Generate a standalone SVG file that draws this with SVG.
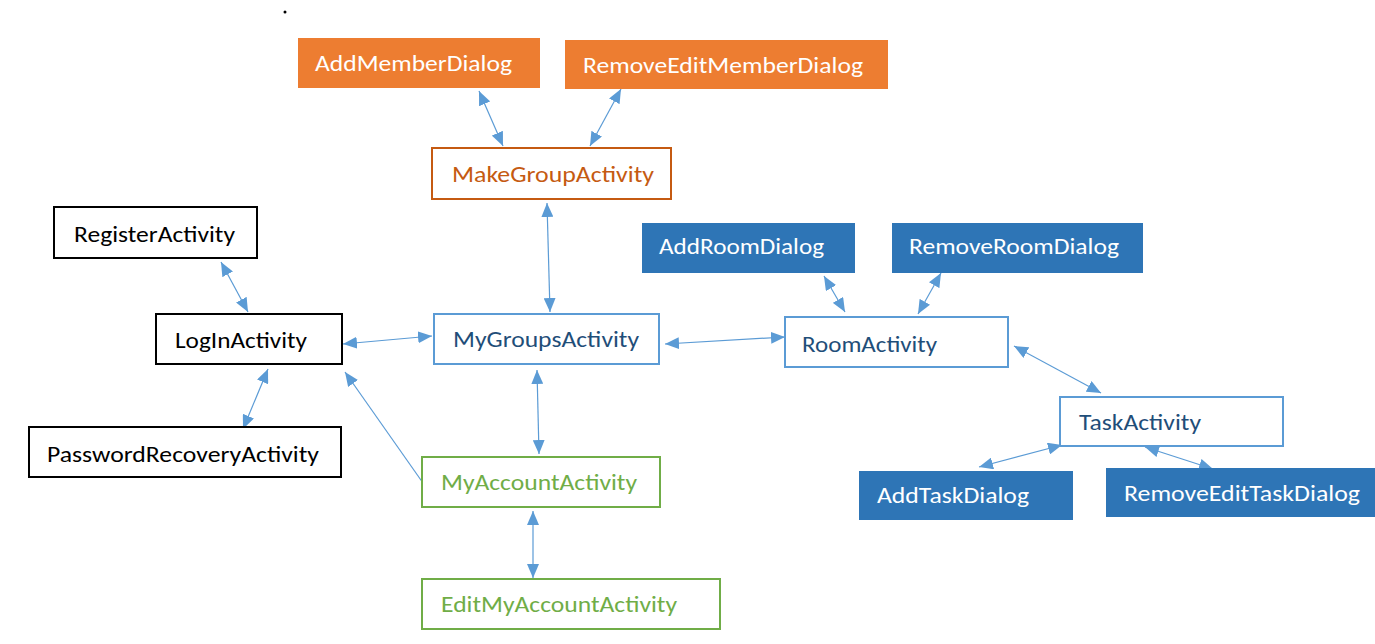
<svg xmlns="http://www.w3.org/2000/svg" width="1375" height="644" viewBox="0 0 1375 644">
<style>
text{font-family:Calibri,Lato,"Liberation Sans",sans-serif;font-size:22px}
.blk rect{fill:#fff;stroke:#000;stroke-width:2}
.blk text{fill:#000}
.org rect{fill:#ED7D31}
.org text,.dkb text{fill:#fff}
.dkb rect{fill:#2E75B6}
.lbl rect{fill:#fff;stroke:#5B9BD5;stroke-width:2}
.lbl text{fill:#1F4E79}
.grn rect{fill:#fff;stroke:#70AD47;stroke-width:2}
.grn text{fill:#70AD47}
.mk rect{fill:#fff;stroke:#C55A11;stroke-width:2}
.mk text{fill:#C55A11}
#connectors line{stroke:#5B9BD5;stroke-width:1.2;fill:none}
</style>
<defs>
<marker id="ah" markerUnits="userSpaceOnUse" markerWidth="14" markerHeight="12" viewBox="0 0 14 12" refX="14" refY="6" orient="auto-start-reverse">
<path d="M0,0 L14,6 L0,12 Z" fill="#5B9BD5"/>
</marker>
</defs>
<rect width="1375" height="644" fill="#fff"/>
<circle cx="285" cy="12" r="1.5" fill="#000"/>
<g id="connectors">
<line x1="479" y1="91" x2="503" y2="146" marker-start="url(#ah)" marker-end="url(#ah)"/>
<line x1="621" y1="89" x2="590" y2="146" marker-start="url(#ah)" marker-end="url(#ah)"/>
<line x1="547" y1="203" x2="550" y2="312" marker-start="url(#ah)" marker-end="url(#ah)"/>
<line x1="221" y1="262" x2="248" y2="312" marker-start="url(#ah)" marker-end="url(#ah)"/>
<line x1="268" y1="369" x2="243" y2="429" marker-start="url(#ah)" marker-end="url(#ah)"/>
<line x1="343" y1="344" x2="432" y2="336" marker-start="url(#ah)" marker-end="url(#ah)"/>
<line x1="423" y1="483" x2="345" y2="372" marker-end="url(#ah)"/>
<line x1="537" y1="370" x2="539" y2="454" marker-start="url(#ah)" marker-end="url(#ah)"/>
<line x1="533" y1="511" x2="533" y2="578" marker-start="url(#ah)" marker-end="url(#ah)"/>
<line x1="665" y1="344" x2="785" y2="337" marker-start="url(#ah)" marker-end="url(#ah)"/>
<line x1="824" y1="276" x2="845" y2="312" marker-start="url(#ah)" marker-end="url(#ah)"/>
<line x1="941" y1="273" x2="918" y2="314" marker-start="url(#ah)" marker-end="url(#ah)"/>
<line x1="1014" y1="346" x2="1101" y2="393" marker-start="url(#ah)" marker-end="url(#ah)"/>
<line x1="1062" y1="445" x2="979" y2="467" marker-start="url(#ah)" marker-end="url(#ah)"/>
<line x1="1145" y1="447" x2="1213" y2="469" marker-start="url(#ah)" marker-end="url(#ah)"/>
</g>
<g id="AddMemberDialog" class="org"><rect x="298" y="38" width="242" height="50"/><text x="315" y="71" textLength="197" lengthAdjust="spacingAndGlyphs">AddMemberDialog</text></g>
<g id="RemoveEditMemberDialog" class="org"><rect x="565" y="40" width="323" height="49"/><text x="583" y="73" textLength="280" lengthAdjust="spacingAndGlyphs">RemoveEditMemberDialog</text></g>
<g id="MakeGroupActivity" class="mk"><rect x="432" y="148" width="239" height="51"/><text x="452" y="182" textLength="202" lengthAdjust="spacingAndGlyphs">MakeGroupActivity</text></g>
<g id="RegisterActivity" class="blk"><rect x="54" y="207" width="203" height="51"/><text x="74" y="242" textLength="161" lengthAdjust="spacingAndGlyphs">RegisterActivity</text></g>
<g id="LogInActivity" class="blk"><rect x="156" y="314" width="186" height="50"/><text x="175" y="348" textLength="132" lengthAdjust="spacingAndGlyphs">LogInActivity</text></g>
<g id="PasswordRecoveryActivity" class="blk"><rect x="29" y="427" width="312" height="50"/><text x="47" y="462" textLength="272" lengthAdjust="spacingAndGlyphs">PasswordRecoveryActivity</text></g>
<g id="MyGroupsActivity" class="lbl"><rect x="434" y="314" width="225" height="50"/><text x="453" y="347" textLength="186" lengthAdjust="spacingAndGlyphs">MyGroupsActivity</text></g>
<g id="MyAccountActivity" class="grn"><rect x="422" y="457" width="238" height="50"/><text x="441" y="490" textLength="196" lengthAdjust="spacingAndGlyphs">MyAccountActivity</text></g>
<g id="EditMyAccountActivity" class="grn"><rect x="422" y="579" width="298" height="50"/><text x="441" y="612" textLength="236" lengthAdjust="spacingAndGlyphs">EditMyAccountActivity</text></g>
<g id="AddRoomDialog" class="dkb"><rect x="642" y="223" width="213" height="50"/><text x="659" y="254" textLength="165" lengthAdjust="spacingAndGlyphs">AddRoomDialog</text></g>
<g id="RemoveRoomDialog" class="dkb"><rect x="892" y="223" width="251" height="50"/><text x="909" y="254" textLength="210" lengthAdjust="spacingAndGlyphs">RemoveRoomDialog</text></g>
<g id="RoomActivity" class="lbl"><rect x="785" y="317" width="223" height="50"/><text x="802" y="352" textLength="135" lengthAdjust="spacingAndGlyphs">RoomActivity</text></g>
<g id="TaskActivity" class="lbl"><rect x="1060" y="397" width="223" height="49"/><text x="1079" y="430" textLength="122" lengthAdjust="spacingAndGlyphs">TaskActivity</text></g>
<g id="AddTaskDialog" class="dkb"><rect x="859" y="471" width="214" height="49"/><text x="877" y="503" textLength="152" lengthAdjust="spacingAndGlyphs">AddTaskDialog</text></g>
<g id="RemoveEditTaskDialog" class="dkb"><rect x="1106" y="468" width="269" height="49"/><text x="1124" y="501" textLength="236" lengthAdjust="spacingAndGlyphs">RemoveEditTaskDialog</text></g>
</svg>
